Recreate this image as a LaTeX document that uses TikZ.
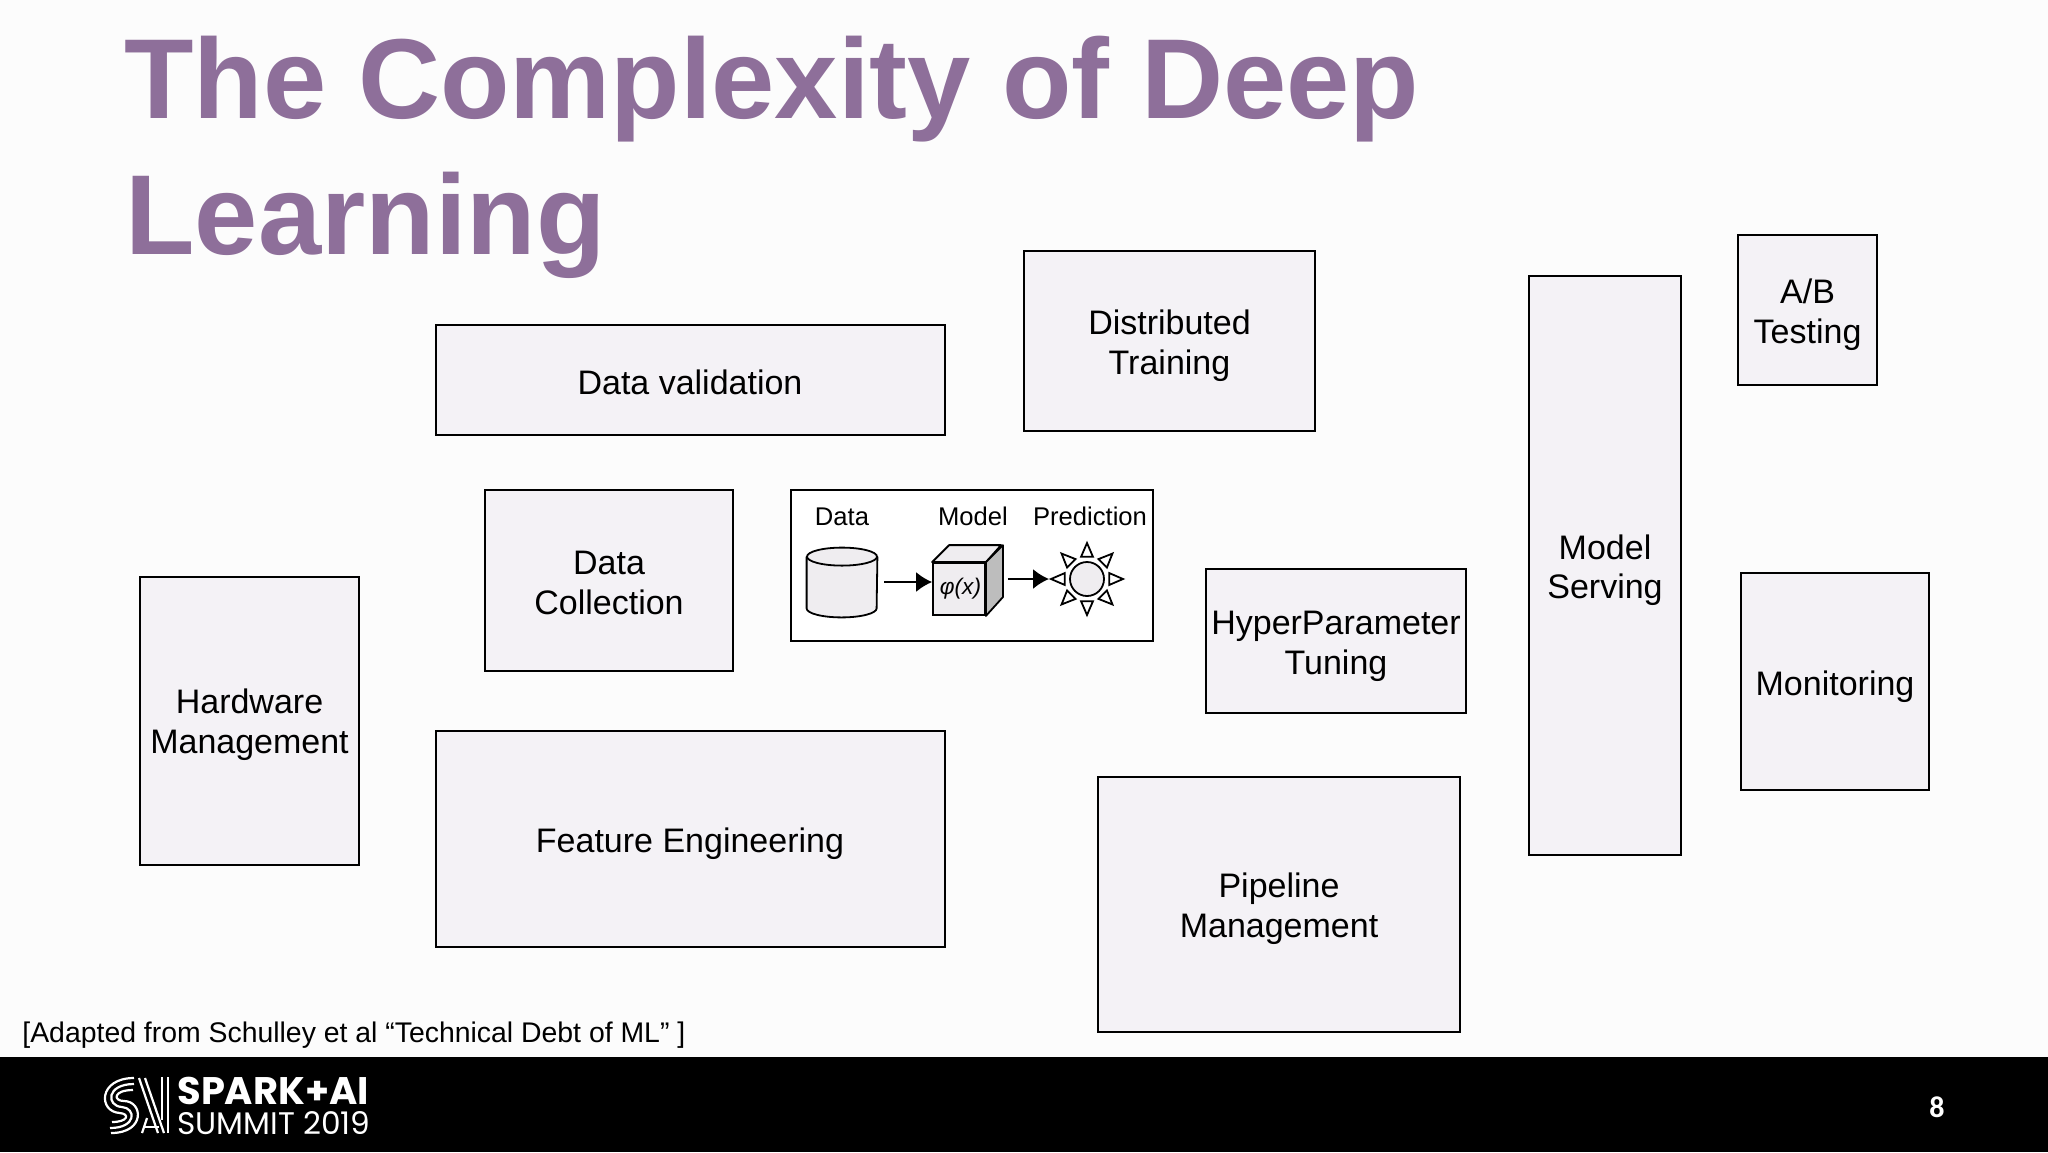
\documentclass[tikz,border=0pt]{standalone}
\usepackage{fontspec}
\setmainfont{Liberation Sans}
\newfontfamily\logofont{Poppins}
\newfontfamily\numfont{Carlito}
\usetikzlibrary{arrows.meta,calc}
\definecolor{headline}{HTML}{8E6F9A}
\definecolor{boxfill}{HTML}{F4F2F6}
\definecolor{iconfill}{HTML}{EFEDF0}
\definecolor{cubeside}{HTML}{BDBDBD}
\begin{document}
\begin{tikzpicture}[
  x=0.5pt, y=-0.5pt,
  boxtext/.style={inner sep=0pt, align=center, font=\fontsize{17}{19.9}\selectfont, text=black},
  bx/.style={draw=black, fill=boxfill, line width=1pt, boxtext},
  oneline/.style={bx, execute at begin node={\rule{0pt}{#1}}},
  small/.style={inner sep=0pt, font=\fontsize{12.8}{14}\selectfont},
  arr/.style={-{Latex[length=8pt, width=10pt]}, line width=0.9pt},
  ray/.style={draw=black, fill=white, line width=0.9pt, line join=miter},
  logoline/.style={draw=white, line width=1.1pt}
]
\useasboundingbox (0,0) rectangle (2048,1152);
\fill[white!99!black] (0,0) rectangle (2048,1057);
% title and note
\node[anchor=base west, inner sep=0pt, text=headline, font=\fontsize{56.85}{60}\bfseries\selectfont] (title1) at (124,118) {The Complexity of Deep};
\node[anchor=base west, inner sep=0pt, text=headline, font=\fontsize{56.85}{60}\bfseries\selectfont] (title2) at (125,254) {Learning};
\node[anchor=base west, inner sep=0pt, font=\fontsize{14.2}{16}\selectfont] (note) at (22,1042) {[Adapted from Schulley et al “Technical Debt of ML” ]};
% boxes
\node[oneline=15pt, minimum width=254.5pt, minimum height=55pt] (valid) at (690,380) {Data validation};
\node[bx, minimum width=145.5pt, minimum height=90pt, label={[boxtext, yshift=-2.3pt]center:{Distributed\\Training}}] (dist) at (1169.5,341) {};
\node[bx, minimum width=76pt, minimum height=289.5pt, label={[boxtext, yshift=-2.3pt]center:{Model\\Serving}}] (serve) at (1605,565.5) {};
\node[bx, minimum width=69.5pt, minimum height=75pt, label={[boxtext, yshift=-2.3pt]center:{A/B\\Testing}}] (abtest) at (1807.5,310) {};
\node[bx, minimum width=124pt, minimum height=90.5pt, label={[boxtext, yshift=-1.3pt]center:{Data\\Collection}}] (collect) at (609,580.5) {};
\node[bx, minimum width=130pt, minimum height=72pt, label={[boxtext, yshift=-2.6pt]center:{HyperParameter\\Tuning}}] (tune) at (1336,641) {};
\node[oneline=17.5pt, minimum width=94pt, minimum height=108.5pt] (monitor) at (1835,681.5) {Monitoring};
\node[bx, minimum width=109.5pt, minimum height=144pt, label={[boxtext, yshift=-2pt]center:{Hardware\\Management}}] (hw) at (249.5,721) {};
\node[oneline=17.5pt, minimum width=254.5pt, minimum height=108pt] (feature) at (690,839) {Feature Engineering};
\node[bx, minimum width=181pt, minimum height=127.5pt, label={[boxtext, yshift=-2pt]center:{Pipeline\\Management}}] (pipe) at (1279,904.5) {};
% model box
\node[draw=black, fill=white, line width=1pt, minimum width=181pt, minimum height=75.5pt] (mlcode) at (972,565.5) {};
\node[small] (lbdata) at (842,517) {Data};
\node[small] (lbmodel) at (973,516) {Model};
\node[small] (lbpred) at (1090,516) {Prediction};
\node[minimum width=35pt, minimum height=34.5pt, inner sep=0pt] (db) at (842,582.5) {};
\draw[fill=iconfill, line width=0.9pt] ([yshift=-4.5pt]db.north west) -- ([yshift=4.5pt]db.south west)
  arc[start angle=180, end angle=0, x radius=35, y radius=9] -- ([yshift=-4.5pt]db.north east);
\draw[fill=iconfill, line width=0.9pt] ([yshift=-4.5pt]db.north) ellipse[x radius=35, y radius=9];
\node[draw=black, fill=iconfill, line width=0.9pt, minimum width=26pt, minimum height=26pt, inner sep=0pt,
      font=\fontsize{11.3}{13}\itshape\selectfont] (cube) at (959,589) {\hspace{1.5pt}φ(x)};
\fill[iconfill, draw=black, line width=0.9pt, line join=round] (cube.north west) -- ++(17,-17) -- ++(52,0) -- (cube.north east) -- cycle;
\fill[cubeside, draw=black, line width=0.9pt, line join=round] (cube.north east) -- ++(17,-17) -- ++(0,52) -- (cube.south east) -- cycle;
\node[circle, draw=black, fill=iconfill, line width=0.9pt, minimum size=17pt, inner sep=0pt] (sun) at (1087,579) {};
\foreach \a in {0,45,...,315}
  \draw[ray] ($(sun)+(\a:36)$) -- ($(sun)+(\a+15:23)$) -- ($(sun)+(\a-15:23)$) -- cycle;
\coordinate (suntip) at ($(sun)+(180:38)$);
\draw[arr] (db.east |- 0,582) ++(7,0) -- (cube.west |- 0,582);
\draw[arr] (cube.east |- 0,579) ++(22,0) -- (suntip);
% footer
\fill[black] (0,1057) rectangle (2048,1152);
\node[anchor=base west, inner sep=0pt, text=white, font=\logofont\fontsize{19.2}{20}\bfseries\selectfont] (spark) at (177,1104) {SPARK+AI};
\node[anchor=base west, inner sep=0pt, text=white, font=\logofont\fontsize{15.6}{16}\selectfont] (summit) at (177,1134) {SUMMIT 2019};
\node[inner sep=0pt, text=white, font=\numfont\fontsize{15}{16}\bfseries\selectfont] (pageno) at (1937,1107) {8};
% logo mark
\draw[logoline] (134,1078) .. controls (98,1078) and (98,1112) .. (120,1113) .. controls (130,1114) and (128,1122) .. (112,1122);
\draw[logoline] (134,1084) .. controls (106,1084) and (106,1106) .. (122,1107) .. controls (136,1108) and (137,1128) .. (110,1128);
\draw[logoline] (133,1090) .. controls (113,1090) and (113,1101) .. (124,1101) .. controls (143,1101) and (146,1133) .. (111,1133);
\foreach \d in {0,6}
  \draw[logoline] (139+\d,1078) -- (158+\d,1133);
\draw[logoline] (162,1077) -- (162,1120);
\draw[logoline] (168,1077) -- (168,1133);
\draw[logoline] (142,1133) -- (147,1118);
\draw[logoline] (144,1127) -- (159,1127);
\end{tikzpicture}
\end{document}
